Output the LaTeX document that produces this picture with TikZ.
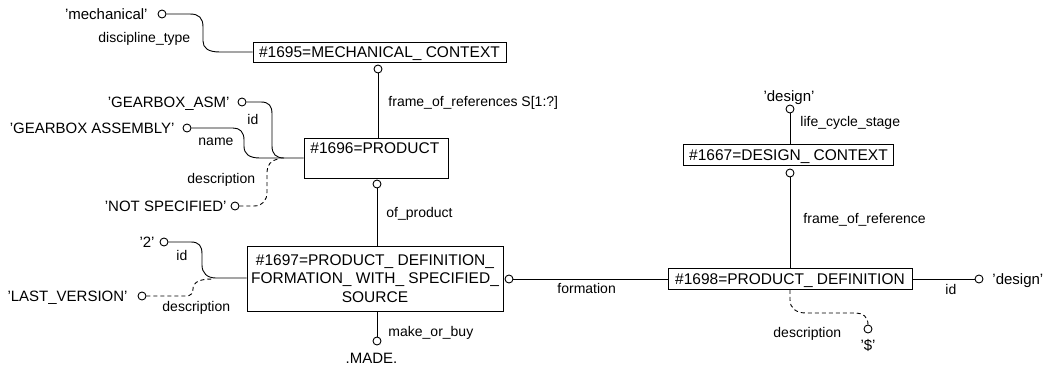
\documentclass[tikz,border=0pt]{standalone}
\usepackage{fontspec}
\setmainfont{Liberation Sans}
\newcommand{\boxfont}{\fontsize{15.5}{18.5}\selectfont}
\newcommand{\lblfont}{\fontsize{14}{16}\selectfont}
\newcommand{\valfont}{\fontsize{15}{17}\selectfont}
\begin{document}
\begin{tikzpicture}[x=1pt,y=-1pt, line width=0.9pt,
  ebox/.style={draw, inner sep=0pt, font=\boxfont, text height=11pt, text depth=0pt},
  port/.style={circle, draw, fill=white, minimum size=8pt, inner sep=0pt},
  lbl/.style={inner sep=0pt, font=\lblfont, text height=9pt, text depth=0pt},
  val/.style={inner sep=0pt, font=\valfont, text height=10pt, text depth=0pt},
  dsh/.style={dash pattern=on 4pt off 3pt}]
\useasboundingbox (0,0) rectangle (1050,368);

% entity boxes
\node[ebox, minimum width=253pt, minimum height=20pt] (mc) at (379.5,52) {\#1695=MECHANICAL\_ CONTEXT};
\node[ebox, minimum width=144pt, minimum height=40pt] (pr) at (376,158) {};
\node[inner sep=0pt, font=\boxfont, text height=11pt, text depth=0pt, anchor=west] (prt) at (310,148) {\#1696=PRODUCT};
\node[draw, inner sep=0pt, font=\boxfont, minimum width=256pt, minimum height=65pt, align=center] (pdf) at (375,278.5)
  {\#1697=PRODUCT\_ DEFINITION\_\\FORMATION\_ WITH\_ SPECIFIED\_\\SOURCE};
\node[ebox, minimum width=244pt, minimum height=21pt] (pd) at (790,279) {\#1698=PRODUCT\_ DEFINITION};
\node[ebox, minimum width=210pt, minimum height=21pt] (dc) at (788.5,155) {\#1667=DESIGN\_ CONTEXT};

% ports
\node[port] (c1) at (162,14) {};
\node[port] (c2) at (378,69) {};
\node[port] (c3) at (242,102) {};
\node[port] (c4) at (187,128) {};
\node[port] (c5) at (235,206) {};
\node[port] (c6) at (377,184) {};
\node[port] (c7) at (164,242) {};
\node[port] (c8) at (142,296) {};
\node[port] (c9) at (509,279) {};
\node[port] (c10) at (377,341) {};
\node[port] (c11) at (979,279) {};
\node[port] (c12) at (790,109) {};
\node[port] (c13) at (790,173) {};
\node[port] (c14) at (868,329) {};

% junction coordinates
\coordinate (jpr) at (284,158);
\coordinate (jpdf) at (216,278);

% connectors
\draw (c1.east) -- (190,14) .. controls (199,14) and (203,18) .. (203,27) -- (203,41) .. controls (203,48) and (208,52) .. (220,52) -- (mc.west);
\draw (c2.south) -- (c2.south |- pr.north);
\draw (c3.east) -- (261,102) .. controls (269,102) and (272,106) .. (272,114) -- (272,146) .. controls (272,154) and (276,158) .. (jpr);
\draw (c4.east) -- (233,128) .. controls (240,128) and (244,132) .. (244,140) -- (244,146) .. controls (244,154) and (249,158) .. (260,158) -- (jpr) -- (pr.west);
\draw[dsh] (c5.east) -- (254,206) .. controls (263,206) and (267,200) .. (267,192) -- (267,172) .. controls (267,165) and (271,160) .. (279,159);
\draw (c6.south) -- (c6.south |- pdf.north);
\draw (c7.east) -- (191,242) .. controls (199,242) and (202,246) .. (202,254) -- (202,265) .. controls (202,273) and (207,278) .. (jpdf) -- (jpdf -| pdf.west);
\draw[dsh] (c8.east) -- (186,296) .. controls (191,296) and (193,293) .. (193,289) .. controls (193,282) and (200,279) .. (212,279);
\draw (c10.north |- pdf.south) -- (c10.north);
\draw (c9.east) -- (pd.west);
\draw (pd.east) -- (c11.west);
\draw (c12.south) -- (c12.south |- dc.north);
\draw (c13.south) -- (c13.south |- pd.north);
\draw[dsh] (pd.south) -- (790,300) .. controls (790,308) and (796,313) .. (806,313) -- (856,313) .. controls (863,313) and (868,317) .. (c14.north);

% value texts
\node[val, anchor=east] (v1) at (148,14) {'mechanical'};
\node[val, anchor=east] (v3) at (230,102) {'GEARBOX\_ASM'};
\node[val, anchor=east] (v4) at (175,128) {'GEARBOX ASSEMBLY'};
\node[val, anchor=east] (v5) at (227,206) {'NOT SPECIFIED'};
\node[val, anchor=east] (v7) at (155,242) {'2'};
\node[val, anchor=east] (v8) at (128,296) {'LAST\_VERSION'};
\node[val] (v10) at (371.5,358) {.MADE.};
\node[val, anchor=west] (v11) at (992,279) {'design'};
\node[val] (v12) at (789,96) {'design'};
\node[val] (v14) at (868,345) {'\$'};

% attribute labels
\node[lbl, anchor=west] (l1) at (98,38) {discipline\_type};
\node[lbl, anchor=west] (l2) at (388,102) {frame\_of\_references S[1:?]};
\node[lbl, anchor=west] (l3) at (247,120) {id};
\node[lbl, anchor=west] (l4) at (198,141) {name};
\node[lbl, anchor=west] (l5) at (187,179) {description};
\node[lbl, anchor=west] (l6) at (386,213) {of\_product};
\node[lbl, anchor=west] (l7) at (176,256) {id};
\node[lbl, anchor=west] (l8) at (162,307) {description};
\node[lbl, anchor=west] (l9) at (388,332) {make\_or\_buy};
\node[lbl, anchor=west] (l10) at (557,289) {formation};
\node[lbl, anchor=west] (l11) at (945,290) {id};
\node[lbl, anchor=west] (l12) at (800,122) {life\_cycle\_stage};
\node[lbl, anchor=west] (l13) at (803,219) {frame\_of\_reference};
\node[lbl, anchor=west] (l14) at (773,333) {description};
\end{tikzpicture}
\end{document}
